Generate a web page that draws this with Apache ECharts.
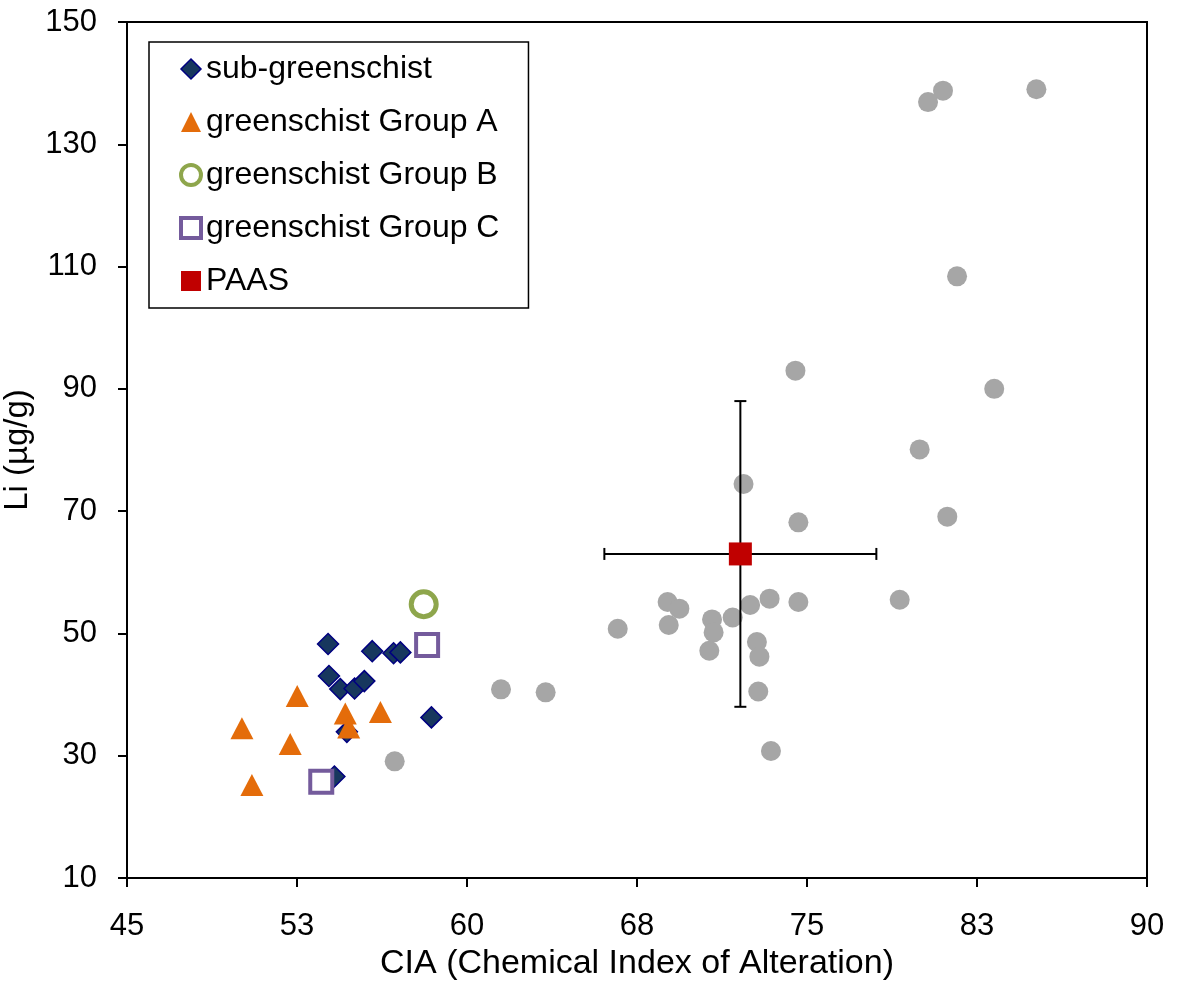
<!DOCTYPE html>
<html>
<head>
<meta charset="utf-8">
<script src="https://cdn.jsdelivr.net/npm/echarts@6/dist/echarts.min.js"></script>
<style>
html,body{margin:0;padding:0;background:#fff;}
#chart{width:1179px;height:987px;}
</style>
</head>
<body>
<div id="chart"></div>
<script>
// ---- data (CIA, Li) ----
const subGreenschist = [
  [53.87,48.27],[55.82,47.1],[56.76,46.75],[57.06,46.9],[53.91,43.04],
  [54.41,40.9],[55.04,41.0],[55.47,42.2],[58.43,36.27],[54.7,33.9],[54.15,26.6]
];
const groupA = [
  [52.51,39.77],[50.07,34.5],[52.2,31.9],[50.51,25.2],[54.63,36.9],[54.78,34.6],[56.18,37.15]
];
const groupB = [[58.09,54.77]];
const groupC = [[58.24,48.1],[53.57,25.75]];
const others = [
  [74.49,92.98],[72.2,74.44],[74.62,68.17],[68.85,55.14],[69.37,54.05],[73.35,55.69],
  [72.49,54.65],[74.62,55.14],[79.09,55.5],[71.72,52.6],[70.81,52.29],[68.9,51.38],
  [70.88,50.17],[66.65,50.76],[70.69,47.17],[72.79,48.6],[72.9,46.2],[72.85,40.5],
  [61.5,40.86],[63.47,40.36],[73.41,30.77],[56.81,29.08],[81.0,138.77],[80.34,136.9],
  [85.12,139.0],[81.62,108.4],[83.26,90.0],[79.97,80.1],[81.19,69.1]
];
const paas = [[72.06,63.0]];
// [x, y, xError, yError]
const paasError = [[72.06,63.0,6.0,25.0]];
const seriesNames = ['sub-greenschist','greenschist Group A','greenschist Group B','greenschist Group C','PAAS'];

const FONT = 'Liberation Sans, Arial, Helvetica, sans-serif';
const chart = echarts.init(document.getElementById('chart'));

function errorBarItem(params, api) {
  const x = api.value(0), y = api.value(1), ex = api.value(2), ey = api.value(3);
  const l = api.coord([x - ex, y]);
  const r = api.coord([x + ex, y]);
  const t = api.coord([x, y + ey]);
  const b = api.coord([x, y - ey]);
  const cap = 6;
  const st = {stroke:'#000', lineWidth:2};
  return {
    type:'group',
    children:[
      {type:'line', shape:{x1:l[0],y1:l[1],x2:r[0],y2:r[1]}, style:st},
      {type:'line', shape:{x1:t[0],y1:t[1],x2:b[0],y2:b[1]}, style:st},
      {type:'line', shape:{x1:l[0],y1:l[1]-cap,x2:l[0],y2:l[1]+cap}, style:st},
      {type:'line', shape:{x1:r[0],y1:r[1]-cap,x2:r[0],y2:r[1]+cap}, style:st},
      {type:'line', shape:{x1:t[0]-cap,y1:t[1],x2:t[0]+cap,y2:t[1]}, style:st},
      {type:'line', shape:{x1:b[0]-cap,y1:b[1],x2:b[0]+cap,y2:b[1]}, style:st}
    ]
  };
}

const option = {
  animation:false,
  backgroundColor:'#fff',
  textStyle:{fontFamily:FONT, color:'#000'},
  grid:{left:127, right:32, top:22, bottom:109, show:true, borderColor:'#000', borderWidth:2,
        backgroundColor:'transparent', containLabel:false, outerBoundsMode:'none'},
  legend:{
    orient:'vertical', left:149, top:42,
    padding:[11,29,11,30], itemGap:21, itemWidth:20, itemHeight:20,
    backgroundColor:'#fff', borderColor:'#000', borderWidth:1.5, borderRadius:0,
    textStyle:{fontSize:32, fontFamily:FONT, color:'#000'},
    data:[
      {name:seriesNames[0], itemStyle:{borderWidth:1.5}},
      {name:seriesNames[1]},
      {name:seriesNames[2], itemStyle:{borderWidth:4}},
      {name:seriesNames[3], itemStyle:{borderWidth:4}},
      {name:seriesNames[4]}
    ]
  },
  xAxis:{
    type:'value', min:45, max:90, interval:7.5,
    name:'CIA (Chemical Index of Alteration)', nameLocation:'middle', nameGap:69,
    nameTextStyle:{fontSize:34, fontFamily:FONT, color:'#000'},
    axisLine:{show:true, onZero:false, lineStyle:{color:'#000', width:2}},
    axisTick:{show:true, inside:false, length:9, lineStyle:{color:'#000', width:2}},
    axisLabel:{fontSize:31, fontFamily:FONT, color:'#000', margin:33, formatter:v=>String(Math.round(v))},
    splitLine:{show:false}
  },
  yAxis:{
    type:'value', min:10, max:150, interval:20,
    name:'Li (µg/g)', nameLocation:'middle', nameGap:85,
    nameTextStyle:{fontSize:33, fontFamily:FONT, color:'#000'},
    axisLine:{show:true, onZero:false, lineStyle:{color:'#000', width:2}},
    axisTick:{show:true, inside:false, length:9, lineStyle:{color:'#000', width:2}},
    axisLabel:{fontSize:31, fontFamily:FONT, color:'#000', margin:30},
    splitLine:{show:false}
  },
  series:[
    {name:seriesNames[0], type:'scatter', data:subGreenschist, symbol:'diamond', symbolSize:21,
     itemStyle:{color:'#17375E', borderColor:'#000080', borderWidth:1.5, opacity:1}, z:2},
    {name:seriesNames[1], type:'scatter', data:groupA, symbol:'triangle', symbolSize:[23,22],
     itemStyle:{color:'#E46C0A', opacity:1}, z:3},
    {name:seriesNames[2], type:'scatter', data:groupB, symbol:'circle', symbolSize:25,
     itemStyle:{color:'#fff', borderColor:'#8EA64C', borderWidth:5, opacity:1}, z:4},
    {name:seriesNames[3], type:'scatter', data:groupC, symbol:'rect', symbolSize:22,
     itemStyle:{color:'#fff', borderColor:'#745B9C', borderWidth:4, opacity:1}, z:5},
    {name:'other', type:'scatter', data:others, symbol:'circle', symbolSize:20,
     itemStyle:{color:'#A6A6A6', opacity:1}, z:1},
    {name:'PAAS error', type:'custom', data:paasError, renderItem:errorBarItem,
     encode:{x:0, y:1}, z:6, silent:true},
    {name:seriesNames[4], type:'scatter', data:paas, symbol:'rect', symbolSize:23,
     itemStyle:{color:'#C00000', opacity:1}, z:7}
  ]
};
chart.setOption(option);
</script>
</body>
</html>
